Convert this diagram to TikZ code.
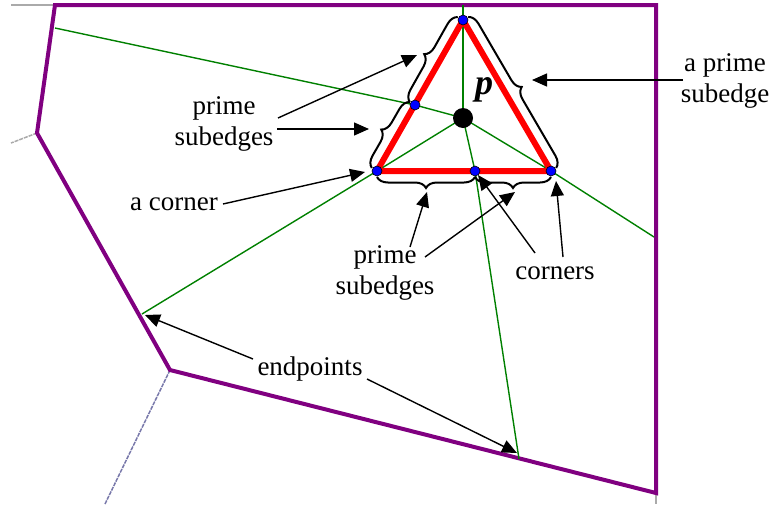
\documentclass[tikz,border=0pt]{standalone}
\usepackage{fontspec}
\setmainfont{Liberation Serif}
\usetikzlibrary{arrows.meta,decorations.pathreplacing}
\definecolor{vpurple}{RGB}{128,0,128}
\definecolor{vgreen}{RGB}{0,128,0}
\definecolor{vred}{RGB}{255,0,0}
\definecolor{vblue}{RGB}{0,0,255}
\definecolor{vgray}{RGB}{170,170,170}
\definecolor{vslate}{RGB}{120,120,170}
\tikzset{
  cell/.style={draw=vpurple,line width=4pt,line join=miter},
  bisect/.style={draw=vgreen,line width=1.4pt},
  tri/.style={draw=vred,line width=6pt,line join=round},
  vdot/.style={circle,fill=vblue,draw=black,line width=0.6pt,inner sep=0pt,minimum size=10pt},
  pdot/.style={circle,fill=black,inner sep=0pt,minimum size=20pt},
  lbl/.style={font=\fontsize{27}{31}\selectfont,align=center,inner sep=0pt},
  ptr/.style={draw=black,line width=1.4pt,-{Triangle[length=15pt,width=13pt]}},
  brc/.style={draw=black,line width=2pt,decorate,decoration={brace,amplitude=11pt,raise=6pt}},
  ghost/.style={draw=vgray,line width=1.5pt}
}
\begin{document}
\begin{tikzpicture}[x=1pt,y=-1pt]
\useasboundingbox (0,0) rectangle (771,504);
% outer cell
\draw[ghost] (11,5) -- (55,5);
\draw[ghost,dash pattern=on 4pt off 1pt] (37,133) -- (11,143);
\draw[draw=vslate,line width=1.5pt,dash pattern=on 4pt off 1pt] (170,370) -- (105,504);
\draw[ghost] (656,493) -- (656,504);
\coordinate (c1) at (55,5);
\coordinate (c2) at (656,5);
\coordinate (c3) at (656,493);
\coordinate (c4) at (170,370);
\coordinate (c5) at (37,133);
\draw[cell] (c1) -- (c2) -- (c3) -- (c4) -- (c5) -- cycle;
% triangle vertices
\coordinate (T) at (463,20);
\coordinate (L) at (377,171);
\coordinate (R) at (551,171);
\coordinate (M) at (415,105);
\coordinate (B) at (475,171);
\coordinate (P) at (463,118);
% endpoints on cell boundary
\coordinate (eT) at (463,5);
\coordinate (eM) at (55,28);
\coordinate (eL) at (142,314);
\coordinate (eB) at (519,459);
\coordinate (eR) at (654,237);
% green lines
\draw[bisect] (eT) -- (P);
\draw[bisect] (eM) -- (M) -- (P);
\draw[bisect] (eL) -- (L) -- (P);
\draw[bisect] (eB) -- (B) -- (P);
\draw[bisect] (eR) -- (R) -- (P);
% red triangle
\draw[tri] (T) -- (L) -- (R) -- cycle;
% point p
\node[pdot] (p) at (P) {};
\node[font=\fontsize{36}{36}\selectfont\bfseries\itshape,inner sep=0pt] (plabel) at (484,90) {p};
% blue dots
\foreach \v in {T,L,R,M,B} \node[vdot] (d\v) at (\v) {};
% braces
\draw[brc] (M) -- (T);
\draw[brc] (L) -- (M);
\draw[brc] (T) -- (R);
\draw[brc] (B) -- (L);
\draw[brc] (R) -- (B);
% brace tips
\coordinate (bTM) at (417,55);
\coordinate (bML) at (369,129);
\coordinate (bTR) at (532,80);
\coordinate (bLB) at (427,192);
\coordinate (bBR) at (515,192);
% labels
\node[lbl] (ps1) at (224,124) {prime\\subedges};
\node[lbl] (acorner) at (174,204) {a corner};
\node[lbl] (aps) at (725,81) {a prime\\subedge};
\node[lbl] (ps2) at (385,273) {prime\\subedges};
\node[lbl] (corners) at (555,273) {corners};
\node[lbl] (endpts) at (310,369) {endpoints};
% arrow tails
\coordinate (t1) at (278,118);
\coordinate (t2) at (277,129);
\coordinate (t3) at (223,204);
\coordinate (t4) at (683,80);
\coordinate (t5) at (410,247);
\coordinate (t6) at (425,257);
\coordinate (t7) at (535,253);
\coordinate (t8) at (563,257);
\coordinate (t9) at (253,359);
\coordinate (t10) at (367,379);
% arrows
\draw[ptr] (t1) -- (bTM);
\draw[ptr] (t2) -- (bML);
\draw[ptr] (t3) -- (365,172);
\draw[ptr] (t4) -- (bTR);
\draw[ptr] (t5) -- (bLB);
\draw[ptr] (t6) -- (bBR);
\draw[ptr] (t7) -- (478,175);
\draw[ptr] (t8) -- (556,181);
\draw[ptr] (t9) -- (145,315);
\draw[ptr] (t10) -- (517,453);
\end{tikzpicture}
\end{document}
